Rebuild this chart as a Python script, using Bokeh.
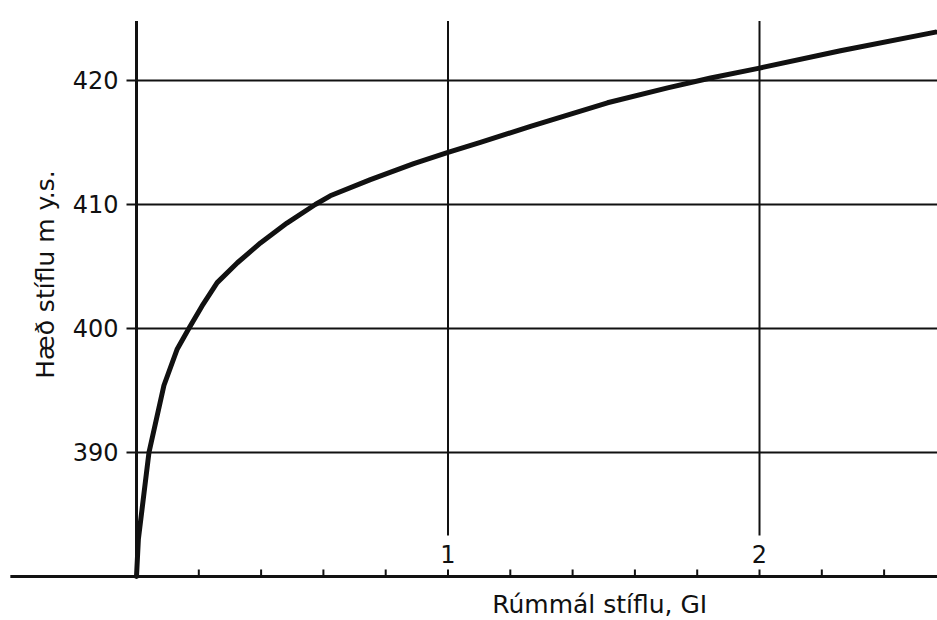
import math
from bokeh.plotting import figure
from bokeh.models import Range1d
from bokeh.core.properties import value
from bokeh.embed import file_html
from bokeh.resources import INLINE

# ---- data ----
volume_gl = [0.0, 0.006, 0.040, 0.088, 0.130, 0.168, 0.210, 0.259, 0.324, 0.398,
             0.483, 0.574, 0.622, 0.751, 0.890, 1.0, 1.104, 1.265, 1.512, 1.705,
             1.843, 2.0, 2.260, 2.565]
height_m = [380.0, 383.0, 390.0, 395.4, 398.3, 400.0, 401.8, 403.7, 405.3, 406.9,
            408.5, 410.0, 410.7, 412.0, 413.3, 414.2, 415.0, 416.3, 418.2, 419.4,
            420.2, 421.0, 422.4, 423.9]

y_ticks = [390, 400, 410, 420]
y_tick_labels = ["390", "400", "410", "420"]
x_major = [1, 2]
x_major_labels = ["1", "2"]
x_minor = [0.2, 0.4, 0.6, 0.8, 1.2, 1.4, 1.6, 1.8, 2.2, 2.4]
x_title = "Rúmmál stíflu, GI"
y_title = "Hæð stíflu m y.s."

# ---- view ----
X_MIN, X_MAX = -0.4366, 2.5714
Y_MIN, Y_MAX = 376.45, 426.45
Y_BASE = 380.0
Y_TOP = 424.8
AXIS_LEFT = -0.405
V_GRID_BOTTOM = 383.3
FONT = value("DejaVu Sans")

p = figure(width=937, height=620,
           x_range=Range1d(X_MIN, X_MAX), y_range=Range1d(Y_MIN, Y_MAX),
           output_backend="svg", toolbar_location=None,
           x_axis_location=None, y_axis_location=None,
           min_border=0, outline_line_color=None)
p.grid.visible = False
p.background_fill_color = "white"
p.border_fill_color = "white"

INK = "#111111"

# horizontal grid lines from the y axis to the right edge
p.ray(x=[0] * len(y_ticks), y=y_ticks, length=0, angle=0,
      line_color=INK, line_width=2)
# y tick marks (outward, to the left)
p.ray(x=[0] * len(y_ticks), y=y_ticks, length=10, length_units="screen",
      angle=math.pi, line_color=INK, line_width=2)
# vertical grid lines at the labelled volumes
p.segment(x0=x_major, y0=[V_GRID_BOTTOM] * len(x_major),
          x1=x_major, y1=[Y_TOP] * len(x_major), line_color=INK, line_width=2)

# axes lines
p.segment(x0=[AXIS_LEFT], y0=[Y_BASE], x1=[X_MAX], y1=[Y_BASE],
          line_color=INK, line_width=3)
p.segment(x0=[0], y0=[Y_BASE], x1=[0], y1=[Y_TOP],
          line_color=INK, line_width=3)

# x tick marks (pointing up)
xt = x_minor + x_major
p.ray(x=xt, y=[Y_BASE] * len(xt), length=7, length_units="screen",
      angle=math.pi / 2, line_color=INK, line_width=2)

# curve
p.line(volume_gl, height_m, line_color=INK, line_width=5,
       line_join="round", line_cap="round")

# tick labels
p.text(x=[0] * len(y_ticks), y=y_ticks, text=y_tick_labels, x_offset=-18,
       text_align="right", text_baseline="middle", text_font=FONT,
       text_font_size="24px", text_color=INK)
p.text(x=x_major, y=[Y_BASE] * len(x_major), text=x_major_labels, y_offset=-13,
       text_align="center", text_baseline="bottom", text_font=FONT,
       text_font_size="24px", text_color=INK)

# axis titles
p.text(x=[1.487], y=[Y_BASE], text=[x_title], y_offset=28,
       text_align="center", text_baseline="middle", text_font=FONT,
       text_font_size="25px", text_color=INK)
p.text(x=[0], y=[404.35], text=[y_title], x_offset=-91, angle=math.pi / 2,
       text_align="center", text_baseline="middle", text_font=FONT,
       text_font_size="25px", text_color=INK)

open("out.html", "w").write(file_html(p, INLINE))
